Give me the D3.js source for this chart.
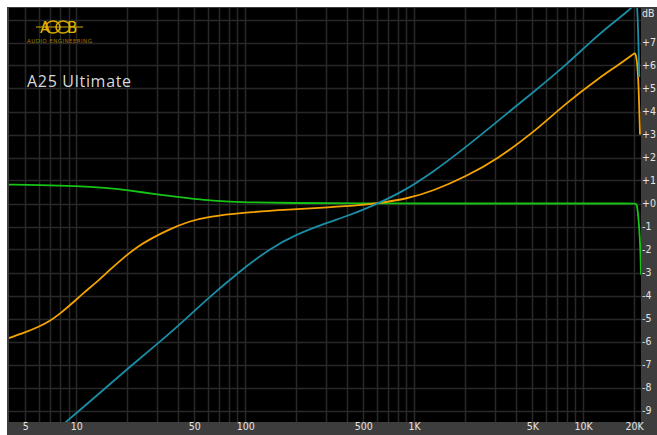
<!DOCTYPE html>
<html>
<head>
<meta charset="utf-8">
<script src="https://cdn.jsdelivr.net/npm/d3@7"></script>
<style>
  html, body { margin: 0; padding: 0; background: #ffffff; }
  svg { display: block; }
</style>
</head>
<body>
<svg id="chart" width="657" height="435"></svg>
<script>
// Frequency response curves (Hz, dB)
const tealFreq = [7, 8, 10, 14, 20, 30, 40, 60, 90, 140, 200, 300, 420, 600, 850, 1300, 2000, 3200, 5000, 8000, 11300, 15000, 19000, 20400, 20900, 21200, 21500];
const tealDb   = [-10.1, -9.72, -9.12, -8.2, -7.2, -6.12, -5.34, -4.13, -3.03, -1.95, -1.35, -0.85, -0.5, -0.02, 0.5, 1.38, 2.42, 3.65, 4.8, 6.05, 7.1, 7.85, 8.45, 8.7, 8.8, 7.2, 5.5];

const orangeFreq = [4, 5, 6, 7, 8, 9.6, 11, 13.2, 16, 19.8, 23, 27.3, 35, 47, 60, 94, 184, 318, 457, 614, 904, 1300, 2050, 3080, 5090, 8020, 12600, 16000, 19900, 20500, 21100, 21400, 21700];
const orangeDb   = [-5.85, -5.6, -5.36, -5.1, -4.8, -4.3, -3.9, -3.42, -2.85, -2.25, -1.88, -1.55, -1.14, -0.76, -0.58, -0.4, -0.26, -0.16, -0.09, 0.02, 0.2, 0.55, 1.19, 1.92, 3.09, 4.4, 5.49, 6.0, 6.5, 6.6, 5.8, 4.6, 3.0];

const greenFreq = [4, 6, 10, 15, 20, 30, 40, 50, 60, 75, 100, 180, 500, 2000, 10000, 19000, 20500, 20800, 21100, 21500, 21800, 22000];
const greenDb   = [0.82, 0.8, 0.76, 0.68, 0.58, 0.4, 0.28, 0.2, 0.15, 0.09, 0.05, 0.02, 0.0, 0.0, 0.0, 0.0, 0.0, -0.05, -0.4, -1.1, -1.9, -3.1];

// Axis ticks
const xTickValues = [5, 10, 50, 100, 500, 1000, 5000, 10000, 20000];
const xTickLabels = ["5", "10", "50", "100", "500", "1K", "5K", "10K", "20K"];
const yTickValues = [7, 6, 5, 4, 3, 2, 1, 0, -1, -2, -3, -4, -5, -6, -7, -8, -9];
const yTickLabels = ["+7", "+6", "+5", "+4", "+3", "+2", "+1", "+0", "-1", "-2", "-3", "-4", "-5", "-6", "-7", "-8", "-9"];

const svg = d3.select("#chart");
const W = 657, H = 435;
const plot = { left: 9, top: 8, right: 641, bottom: 422 };
const axisFont = "'DejaVu Sans Condensed', 'DejaVu Sans', sans-serif";

const x = d3.scaleLog().domain([4, 22000]).range([plot.left, plot.right]);
const y = d3.scaleLinear().domain([-9.5, 8.5]).range([plot.bottom, plot.top]);

// Panel and plot background
svg.append("rect").attr("x", 7).attr("y", 7).attr("width", W - 7).attr("height", H - 7).attr("fill", "#3d3d3d");
svg.append("rect").attr("x", plot.left).attr("y", plot.top)
  .attr("width", plot.right - plot.left).attr("height", plot.bottom - plot.top).attr("fill", "#000000");

svg.append("clipPath").attr("id", "plotClip").append("rect")
  .attr("x", plot.left).attr("y", plot.top)
  .attr("width", plot.right - plot.left).attr("height", plot.bottom - plot.top);

// Grid: every 1-9 multiple per decade, every dB
const grid = svg.append("g").attr("clip-path", "url(#plotClip)");
const vGrid = [];
for (let d = 1; d <= 10000; d *= 10) {
  for (let m = 1; m <= 9; m++) {
    const f = d * m;
    if (f > 4 && f < 22000) vGrid.push(f);
  }
}
grid.selectAll("line.v").data(vGrid).join("line")
  .attr("x1", d => Math.round(x(d)) + 0.5).attr("x2", d => Math.round(x(d)) + 0.5)
  .attr("y1", plot.top).attr("y2", plot.bottom)
  .attr("stroke", "#282828").attr("stroke-width", 1.5);
grid.selectAll("line.h").data(d3.range(-9, 9)).join("line")
  .attr("x1", plot.left).attr("x2", plot.right)
  .attr("y1", d => Math.round(y(d)) + 0.5).attr("y2", d => Math.round(y(d)) + 0.5)
  .attr("stroke", "#282828").attr("stroke-width", 1.5);

// Logo
const logo = svg.append("g");
logo.append("line").attr("x1", 36).attr("x2", 83).attr("y1", 27).attr("y2", 27)
  .attr("stroke", "#d9a900").attr("stroke-width", 1.2);
logo.append("ellipse").attr("cx", 53).attr("cy", 27).attr("rx", 7).attr("ry", 6)
  .attr("fill", "none").attr("stroke", "#d9a900").attr("stroke-width", 1.6);
logo.append("ellipse").attr("cx", 63).attr("cy", 27).attr("rx", 7).attr("ry", 6)
  .attr("fill", "none").attr("stroke", "#d9a900").attr("stroke-width", 1.6);
logo.append("text").attr("x", 40).attr("y", 33).text("A")
  .attr("font-family", "DejaVu Sans, sans-serif").attr("font-size", 15).attr("fill", "#e0b400");
logo.append("text").attr("x", 67).attr("y", 33).text("B")
  .attr("font-family", "DejaVu Sans, sans-serif").attr("font-size", 15).attr("fill", "#e0b400");
logo.append("text").attr("x", 27).attr("y", 43).text("AUDIO ENGINEERING")
  .attr("font-family", "DejaVu Sans, sans-serif").attr("font-size", 5.6).attr("fill", "#9a7a00")
  .attr("textLength", 65);

// Title
svg.append("text").attr("x", 27).attr("y", 87).text("A25 Ultimate")
  .attr("font-family", "Open Sans, sans-serif").attr("font-size", 16).attr("letter-spacing", 0.7)
  .attr("fill", "#d8d8d8");

// Curves
const series = [
  { freq: greenFreq, db: greenDb, color: "#16c416" },
  { freq: orangeFreq, db: orangeDb, color: "#f5a300" },
  { freq: tealFreq, db: tealDb, color: "#1a8ea6" }
];
const line = d3.line().x(d => x(d[0])).y(d => y(d[1])).curve(d3.curveBasis);
const curves = svg.append("g").attr("clip-path", "url(#plotClip)");
series.forEach(s => {
  curves.append("path")
    .datum(s.freq.map((f, i) => [f, s.db[i]]))
    .attr("d", line)
    .attr("fill", "none")
    .attr("stroke", s.color)
    .attr("stroke-width", 1.8)
    .attr("stroke-linejoin", "round");
});

// Right dB axis
const yAxis = svg.append("g").attr("transform", `translate(${plot.right},0)`)
  .call(d3.axisRight(y).tickValues(yTickValues).tickSize(0).tickPadding(1)
    .tickFormat((d, i) => yTickLabels[i]));
yAxis.select(".domain").remove();
yAxis.selectAll("text").attr("font-family", axisFont).attr("font-size", 10.5).attr("fill", "#e4e4e4");
svg.append("text").attr("x", plot.right + 1).attr("y", 13).attr("dy", "0.35em").text("dB")
  .attr("font-family", axisFont).attr("font-size", 10.5).attr("fill", "#e4e4e4");

// Bottom frequency axis
const xAxis = svg.append("g").attr("transform", `translate(0,${plot.bottom})`)
  .call(d3.axisBottom(x).tickValues(xTickValues).tickSize(0).tickPadding(1)
    .tickFormat((d, i) => xTickLabels[i]));
xAxis.select(".domain").remove();
xAxis.selectAll("text").attr("font-family", axisFont).attr("font-size", 10.5).attr("fill", "#e4e4e4");
</script>
</body>
</html>
